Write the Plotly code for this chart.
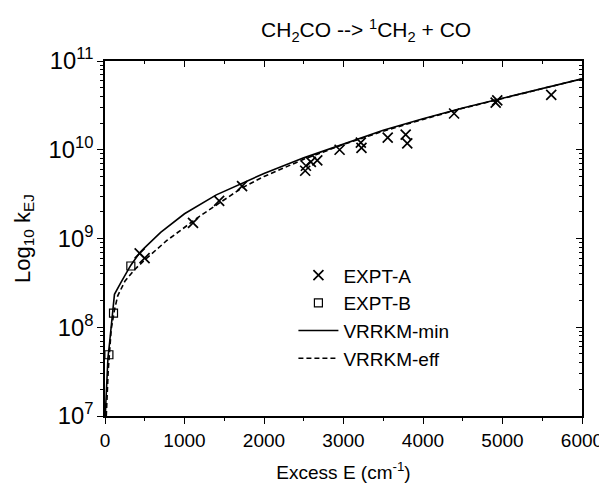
import plotly.graph_objects as go

# EXPT-A (crosses)
expt_a_E = [436, 498, 1107, 1436, 1724, 2518, 2527, 2589, 2670, 2951, 3218, 3226,
            3556, 3782, 3802, 4391, 4914, 4934, 5613]
expt_a_k = [6.8e8, 6.0e8, 1.5e9, 2.65e9, 3.9e9, 5.8e9, 6.6e9, 7.3e9, 7.6e9, 1.0e10,
            1.2e10, 1.05e10, 1.37e10, 1.48e10, 1.18e10, 2.56e10, 3.4e10, 3.6e10, 4.15e10]

# EXPT-B (open squares)
expt_b_E = [49, 107, 325]
expt_b_k = [4.9e7, 1.44e8, 4.9e8]

# VRRKM-min (solid)
min_E = [3, 37, 60, 99, 119, 201, 325, 436, 500, 700, 1000, 1400, 1700, 2000, 2500,
         3000, 3500, 4000, 4500, 5000, 5500, 6000]
min_k = [1.0e7, 4.5e7, 7.0e7, 1.6e8, 2.35e8, 3.2e8, 5.0e8, 6.9e8, 7.9e8, 1.17e9, 1.9e9,
         3.1e9, 4.1e9, 5.4e9, 8.1e9, 1.17e10, 1.66e10, 2.24e10, 2.95e10, 3.8e10, 4.9e10, 6.3e10]

# VRRKM-eff (dashed)
eff_E = [16, 40, 78, 120, 160, 250, 366, 500, 778, 1000, 1189, 1436, 1724, 2000, 2500,
         3000, 3500, 4000, 4500, 5000, 5500, 6000]
eff_k = [1.0e7, 3.2e7, 9.5e7, 1.58e8, 2.26e8, 3.3e8, 4.4e8, 5.75e8, 9.5e8, 1.35e9, 1.78e9,
         2.5e9, 3.72e9, 5.0e9, 7.8e9, 1.15e10, 1.62e10, 2.2e10, 2.93e10, 3.78e10, 4.9e10, 6.3e10]

FONT = "Liberation Sans, Arial, Helvetica, sans-serif"

fig = go.Figure()
fig.add_trace(go.Scatter(x=expt_a_E, y=expt_a_k, mode="markers", name="EXPT-A",
                         marker=dict(symbol="x-thin", size=10, color="black",
                                     line=dict(width=1.7, color="black"))))
fig.add_trace(go.Scatter(x=expt_b_E, y=expt_b_k, mode="markers", name="EXPT-B",
                         marker=dict(symbol="square-open", size=8, color="black",
                                     line=dict(width=1.2, color="black"))))
fig.add_trace(go.Scatter(x=min_E, y=min_k, mode="lines", name="VRRKM-min",
                         line=dict(color="black", width=1.6)))
fig.add_trace(go.Scatter(x=eff_E, y=eff_k, mode="lines", name="VRRKM-eff",
                         line=dict(color="black", width=1.6, dash="5px,3px")))
# invisible helper trace so the top/right (inside-tick) axes are drawn
fig.add_trace(go.Scatter(x=expt_b_E, y=expt_b_k, xaxis="x2", yaxis="y2", mode="markers",
                         marker=dict(opacity=0), showlegend=False, hoverinfo="skip"))

axis_common = dict(showgrid=False, zeroline=False, tickcolor="black", tickwidth=1.3)

fig.update_layout(
    width=607, height=484,
    margin=dict(l=97, r=24, t=53, b=68),
    paper_bgcolor="white", plot_bgcolor="white",
    font=dict(family=FONT, size=19, color="black"),
    title=dict(text="CH<sub>2</sub>CO --&gt; <sup>1</sup>CH<sub>2</sub> + CO",
               x=0.59, xref="container", xanchor="center",
               y=1 - 22 / 484, yref="container", yanchor="middle",
               font=dict(size=21, family=FONT)),
    showlegend=True,
    legend=dict(x=0.395, y=0.45, xanchor="left", yanchor="top",
                bgcolor="rgba(0,0,0,0)", font=dict(size=19, family=FONT),
                itemwidth=40),
    xaxis=dict(range=[0, 6000], dtick=1000, tick0=0,
               showline=True, linecolor="black", linewidth=1.5, mirror=True,
               ticks="outside", ticklen=6,
               minor=dict(dtick=500, ticks="outside", ticklen=3, tickcolor="black", showgrid=False),
               tickfont=dict(size=19),
               title=dict(text="Excess E (cm<sup>-1</sup>)", standoff=16, font=dict(size=19)),
               **axis_common),
    yaxis=dict(type="log", range=[7, 11], dtick=1, exponentformat="power",
               showline=True, linecolor="black", linewidth=1.5, mirror=True,
               ticks="outside", ticklen=6,
               minor=dict(dtick="D1", ticks="outside", ticklen=3, tickcolor="black", showgrid=False),
               tickfont=dict(size=19),
               title=dict(text="Log<sub>10</sub> k<sub>EJ</sub>", standoff=12, font=dict(size=22)),
               **axis_common),
    xaxis2=dict(overlaying="x", matches="x", side="top", showticklabels=False,
                ticks="inside", ticklen=6, dtick=1000, tick0=0, showline=False,
                minor=dict(dtick=500, ticks="inside", ticklen=3, tickcolor="black", showgrid=False),
                **axis_common),
    yaxis2=dict(overlaying="y", matches="y", side="right", type="log", showticklabels=False,
                ticks="inside", ticklen=6, dtick=1, showline=False,
                minor=dict(dtick="D1", ticks="inside", ticklen=3, tickcolor="black", showgrid=False),
                **axis_common),
)

fig.write_html("out.html")
